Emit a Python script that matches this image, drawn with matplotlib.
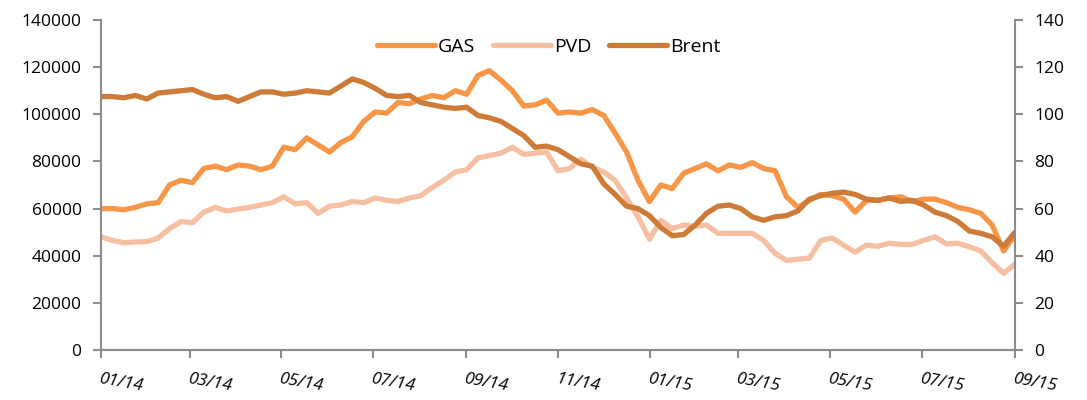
import numpy as np
import pandas as pd
import matplotlib
matplotlib.use("Agg")
import matplotlib.pyplot as plt

plt.rcParams["font.family"] = ["Open Sans", "DejaVu Sans"]

# roughly weekly readings, 01/2014 - 09/2015
dates = pd.date_range("2014-01-01", "2015-09-01", periods=81)

gas = [60000, 60000, 59500, 60500, 62000, 62500, 70000, 72000, 71000, 77000,
       78000, 76500, 78500, 78000, 76500, 78000, 86000, 85000, 90000, 87000,
       84000, 88000, 90500, 97000, 101000, 100500, 105000, 104500, 106500, 108000,
       107000, 110000, 108500, 116500, 118500, 114500, 110000, 103500, 104000, 106000,
       100500, 101000, 100500, 102000, 99500, 92000, 84000, 72000, 63000, 70000,
       68500, 75000, 77000, 79000, 76000, 78500, 77500, 79500, 77000, 76000,
       65000, 60500, 63500, 66000, 65500, 64000, 58500, 63500, 63500, 64500,
       65000, 63000, 64000, 64000, 62500, 60500, 59500, 58000, 53000, 42000,
       49000]

pvd = [48000, 46500, 45500, 45800, 46000, 47500, 51500, 54500, 54000, 58500,
       60500, 59000, 59800, 60500, 61500, 62500, 65000, 62000, 62500, 58000,
       61000, 61500, 63000, 62500, 64500, 63500, 63000, 64500, 65500, 69000,
       72000, 75500, 76500, 81500, 82500, 83500, 86000, 83000, 83500, 84000,
       76000, 77000, 81000, 77500, 75500, 72000, 64500, 56500, 47000, 55000,
       51500, 53000, 52500, 53000, 49500, 49500, 49500, 49500, 46500, 41000,
       38000, 38500, 39000, 46500, 47500, 44500, 41500, 44500, 44000, 45300,
       44800, 44800, 46500, 48000, 45000, 45300, 43800, 42000, 37000, 32500,
       36500]

brent = [107.5, 107.5, 107, 108, 106.5, 109, 109.5, 110, 110.5, 108.5,
         107, 107.5, 105.5, 107.5, 109.5, 109.5, 108.5, 109, 110, 109.5,
         109, 112, 115, 113.5, 111, 108, 107.5, 108, 105, 104,
         103, 102.5, 103, 99.5, 98.5, 97, 94, 91, 86, 86.5,
         85, 82, 79, 78, 70.5, 66, 61, 60, 57, 52,
         48.5, 49, 53, 58, 61, 61.5, 60, 56.5, 55, 56.5,
         57, 59, 64, 65.5, 66.5, 67, 66, 64, 63.5, 64.5,
         63, 63.5, 61.5, 58.5, 57, 54.5, 50.5, 49.5, 48, 44,
         50]

c_gas = "#F79646"
c_pvd = "#F6BFA2"
c_brent = "#CD7B36"
c_axis = "#8C8C8C"

fig = plt.figure(figsize=(10.87, 4.0), dpi=100)
ax = fig.add_axes([0.0929, 0.125, 0.8409, 0.825])
ax2 = ax.twinx()

l1, = ax.plot(dates, gas, color=c_gas, lw=3.8, label="GAS", solid_capstyle="round")
l2, = ax.plot(dates, pvd, color=c_pvd, lw=3.8, label="PVD", solid_capstyle="round")
l3, = ax2.plot(dates, brent, color=c_brent, lw=3.8, label="Brent", solid_capstyle="round")

ax.set_ylim(0, 140000)
ax2.set_ylim(0, 140)
ax.set_yticks(range(0, 140001, 20000))
ax2.set_yticks(range(0, 141, 20))
ax.set_xlim(pd.Timestamp("2014-01-01"), pd.Timestamp("2015-09-01"))

ticks = pd.date_range("2014-01-01", "2015-09-01", freq="2MS")
ax.set_xticks(ticks)
ax.set_xticklabels([t.strftime("%m/%y") for t in ticks], rotation=-10,
                   ha="left", rotation_mode="anchor", style="italic", fontsize=12.5)

for a in (ax, ax2):
    a.spines["top"].set_visible(False)
    for s in ("left", "right", "bottom"):
        a.spines[s].set_color(c_axis)
        a.spines[s].set_linewidth(1.5)
    a.tick_params(colors=c_axis, labelcolor="black", width=1.5, length=6, labelsize=12.5)
ax.spines["right"].set_visible(False)
ax2.spines["left"].set_visible(False)
ax.tick_params(axis="x", pad=9, length=6)
ax.tick_params(axis="y", pad=8)
ax2.tick_params(axis="y", pad=8)

ax.legend([l1, l2, l3], ["GAS", "PVD", "Brent"], loc="upper center",
          bbox_to_anchor=(0.49, 1.0), ncol=3, frameon=False, fontsize=14,
          handlelength=3.0, handletextpad=0.15, columnspacing=0.9)

fig.savefig("out.png", dpi=100)
plt.close(fig)
